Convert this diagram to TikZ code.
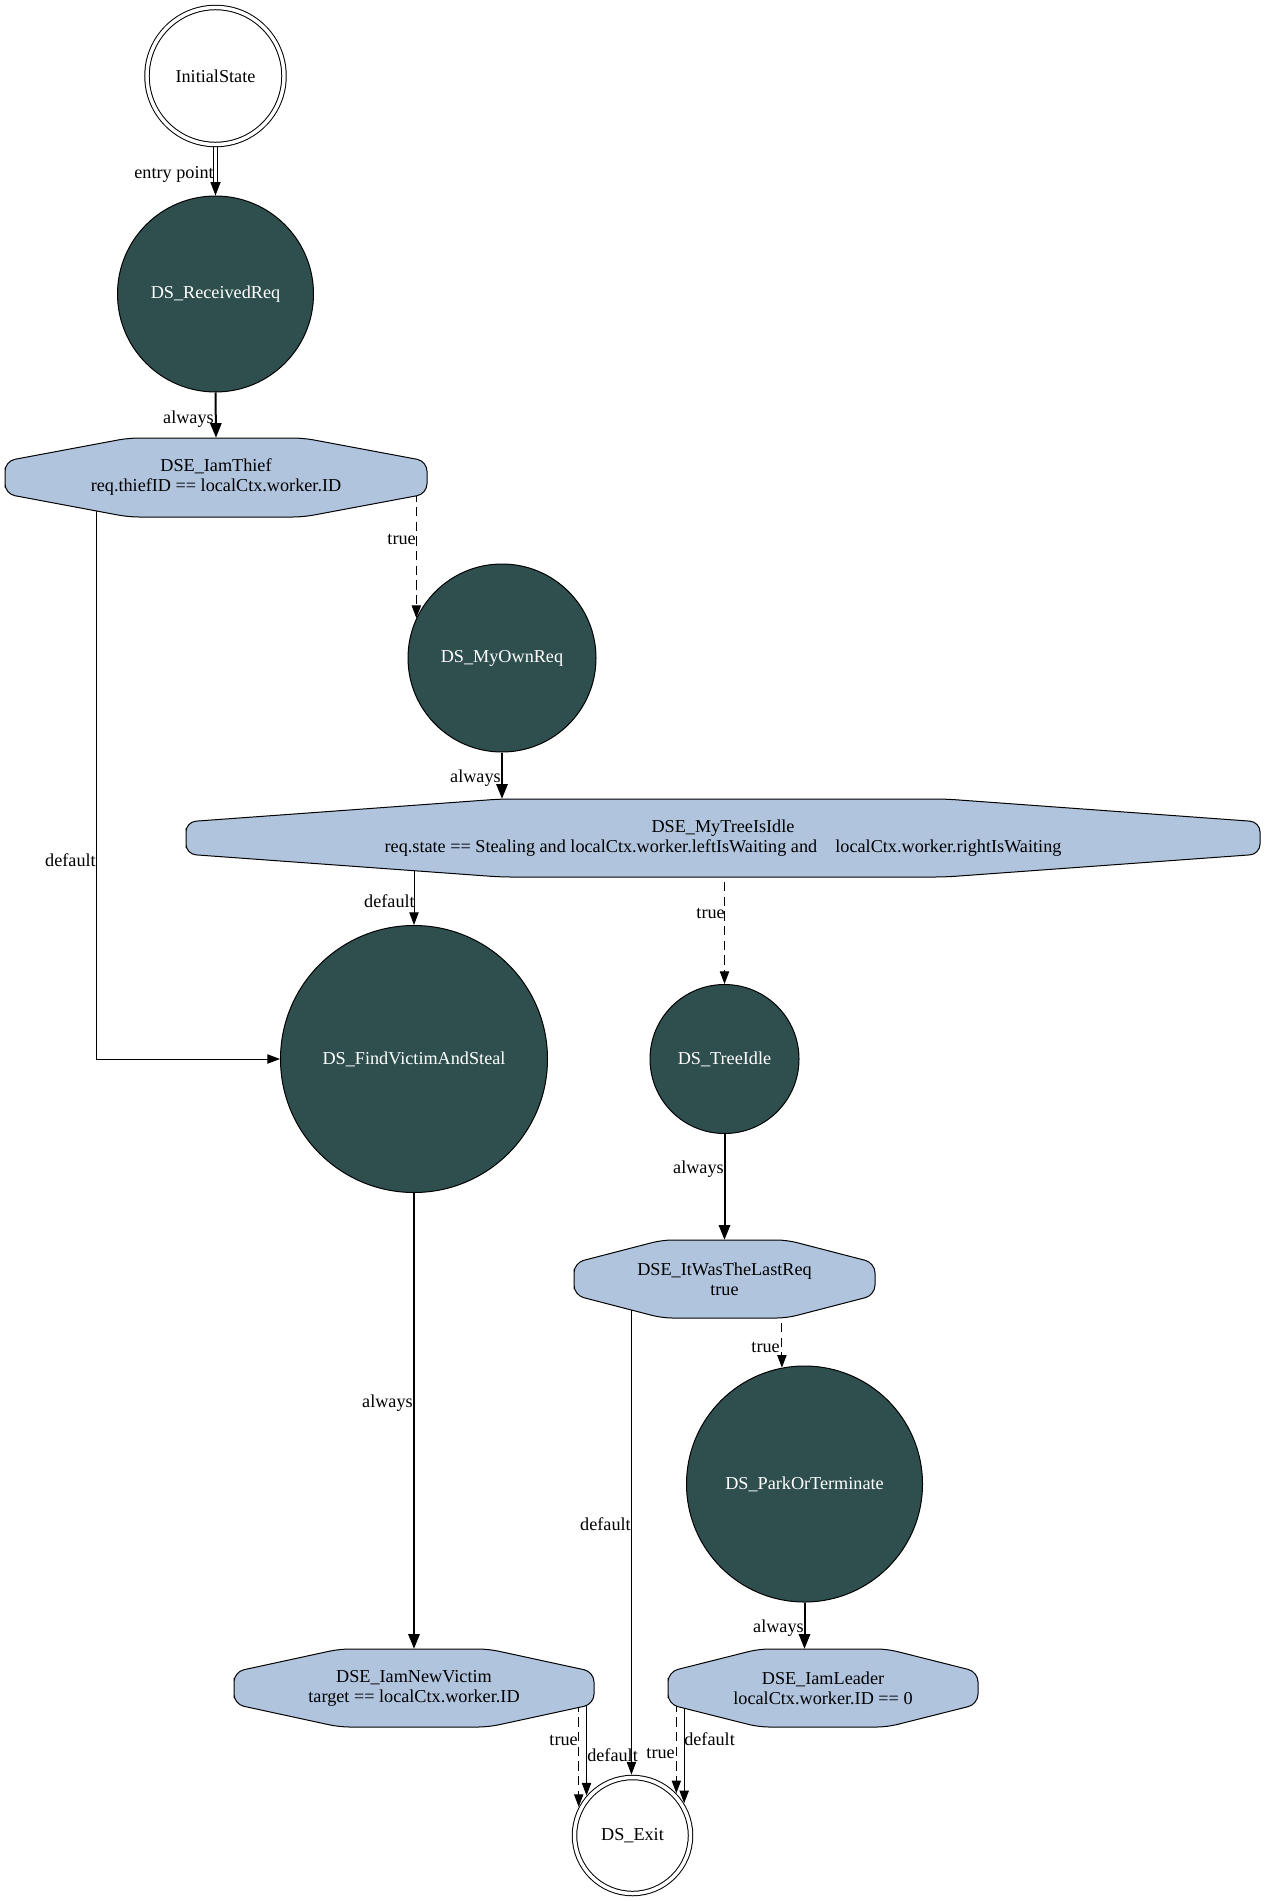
\documentclass[tikz,border=0pt]{standalone}
\usepackage{fontspec}
\setmainfont{Liberation Serif}
\usetikzlibrary{arrows.meta,calc}
\pgfdeclarelayer{background}
\pgfsetlayers{background,main}
\definecolor{stategray}{HTML}{2F4F4F}
\definecolor{condblue}{HTML}{B0C4DE}

% condition node: octagon with rounded corners plus a named text node
% #1 name, #2 cx, #3 cy, #4 half width, #5 half height, #6 text
\newcommand{\condnode}[6]{%
  \draw[condshape] ({#2-#4},{#3})
    -- ({#2-#4},{#3-0.414*#5}) -- ({#2-0.414*#4},{#3-#5})
    -- ({#2+0.414*#4},{#3-#5}) -- ({#2+#4},{#3-0.414*#5})
    -- ({#2+#4},{#3+0.414*#5}) -- ({#2+0.414*#4},{#3+#5})
    -- ({#2-0.414*#4},{#3+#5}) -- ({#2-#4},{#3+0.414*#5}) -- cycle;
  \node[condtext, minimum width={2*#4*0.75pt}, minimum height={2*#5*0.75pt}] (#1) at (#2,#3) {#6};
}

\tikzset{
  txt/.style={font=\fontsize{13.65}{15}\selectfont},
  dsstate/.style={circle, draw=black, line width=0.75pt, fill=stategray, text=white, inner sep=0pt, txt},
  termstate/.style={circle, draw=black, line width=0.75pt, double=white, double distance=2.6pt, inner sep=0pt, outer sep=2.2pt, txt},
  condshape/.style={draw=black, line width=0.75pt, fill=condblue, rounded corners=7.5pt},
  condtext/.style={rectangle, draw=none, inner sep=0pt, align=center, txt},
  lbl/.style={inner sep=0pt, txt},
  dflt/.style={line width=0.75pt, -{Triangle[length=9.5pt, width=7pt]}},
  truee/.style={line width=0.75pt, dash pattern=on 7pt off 4pt, -{Triangle[length=9.5pt, width=7pt]}},
  always/.style={line width=1.5pt, -{Triangle[length=11pt, width=8.5pt]}},
  entryline/.style={line width=0.75pt, double=white, double distance=2.2pt, -{Triangle[length=10pt, width=7.5pt]}},
}

\begin{document}
\begin{tikzpicture}[x=0.75pt, y=-0.75pt]
  \begin{pgfonlayer}{background}
    \fill[white] (0,0) rectangle (1268,1901);
  \end{pgfonlayer}
  \useasboundingbox (0,0) rectangle (1268,1901);

  % states
  \node[termstate, minimum size=102.75pt] (init) at (215.5,76) {InitialState};
  \node[dsstate, minimum size=147pt] (recv) at (215.5,294) {DS\_ReceivedReq};
  \node[dsstate, minimum size=141pt] (myown) at (502,658) {DS\_MyOwnReq};
  \node[dsstate, minimum size=200.25pt] (find) at (414,1059) {DS\_FindVictimAndSteal};
  \node[dsstate, minimum size=111.75pt] (tidle) at (724.5,1059) {DS\_TreeIdle};
  \node[dsstate, minimum size=177pt] (park) at (804.5,1484) {DS\_ParkOrTerminate};
  \node[termstate, minimum size=87pt] (exit) at (632.5,1835.5) {DS\_Exit};

  % conditions
  \condnode{thief}{216}{477.5}{211}{39.5}{DSE\_IamThief\\req.thiefID == localCtx.worker.ID}
  \condnode{mytree}{723}{838}{537}{39}{DSE\_MyTreeIsIdle\\req.state == Stealing and localCtx.worker.leftIsWaiting and\ \ \ \ localCtx.worker.rightIsWaiting}
  \condnode{lastreq}{724.5}{1279}{150.5}{39}{DSE\_ItWasTheLastReq\\true}
  \condnode{newvictim}{414}{1688}{180}{39}{DSE\_IamNewVictim\\target == localCtx.worker.ID}
  \condnode{leader}{823}{1688}{155}{39}{DSE\_IamLeader\\localCtx.worker.ID == 0}

  % transitions, kept beneath the shapes
  \begin{pgfonlayer}{background}
    \draw[entryline] (init.south) -- (recv.north);
    \draw[always] (recv.south) -- (thief.north);
    \draw[truee] (myown.155 |- thief.center) -- (myown.155);
    \draw[dflt] ($(thief.center)+(-120,0)$) |- (find.west);
    \draw[always] (myown.south) -- (myown.south |- mytree.north);
    \draw[dflt] (find.north |- mytree.center) -- (find.north);
    \draw[truee] (tidle.north |- mytree.center) -- (tidle.north);
    \draw[always] (tidle.south) -- (lastreq.north);
    \draw[always] (find.south) -- (newvictim.north);
    \draw[truee] (park.101 |- lastreq.center) -- (park.101);
    \draw[dflt] (exit.91 |- lastreq.center) -- (exit.91);
    \draw[always] (park.south) -- (park.south |- leader.north);
    \draw[truee] (exit.152 |- newvictim.center) -- (exit.152);
    \draw[dflt] (exit.139 |- newvictim.center) -- (exit.139);
    \draw[truee] (exit.44 |- leader.center) -- (exit.44);
    \draw[dflt] (exit.32 |- leader.center) -- (exit.32);
  \end{pgfonlayer}

  % transition labels
  \node[lbl, anchor=east] (l1) at (214,174) {entry point};
  \node[lbl, anchor=east] (l2) at (214,419) {always};
  \node[lbl, anchor=east] (l3) at (416,539) {true};
  \node[lbl, anchor=east] (l4) at (96,860) {default};
  \node[lbl, anchor=east] (l5) at (501,778) {always};
  \node[lbl, anchor=east] (l6) at (415,901) {default};
  \node[lbl, anchor=east] (l7) at (725,913) {true};
  \node[lbl, anchor=east] (l8) at (724,1169) {always};
  \node[lbl, anchor=east] (l9) at (413,1403) {always};
  \node[lbl, anchor=east] (l10) at (780,1347) {true};
  \node[lbl, anchor=east] (l11) at (631,1524) {default};
  \node[lbl, anchor=east] (l12) at (804,1628) {always};
  \node[lbl, anchor=east] (l13) at (578,1740) {true};
  \node[lbl, anchor=west] (l14) at (587,1755) {default};
  \node[lbl, anchor=east] (l15) at (675,1753) {true};
  \node[lbl, anchor=west] (l16) at (684,1739) {default};
\end{tikzpicture}
\end{document}
